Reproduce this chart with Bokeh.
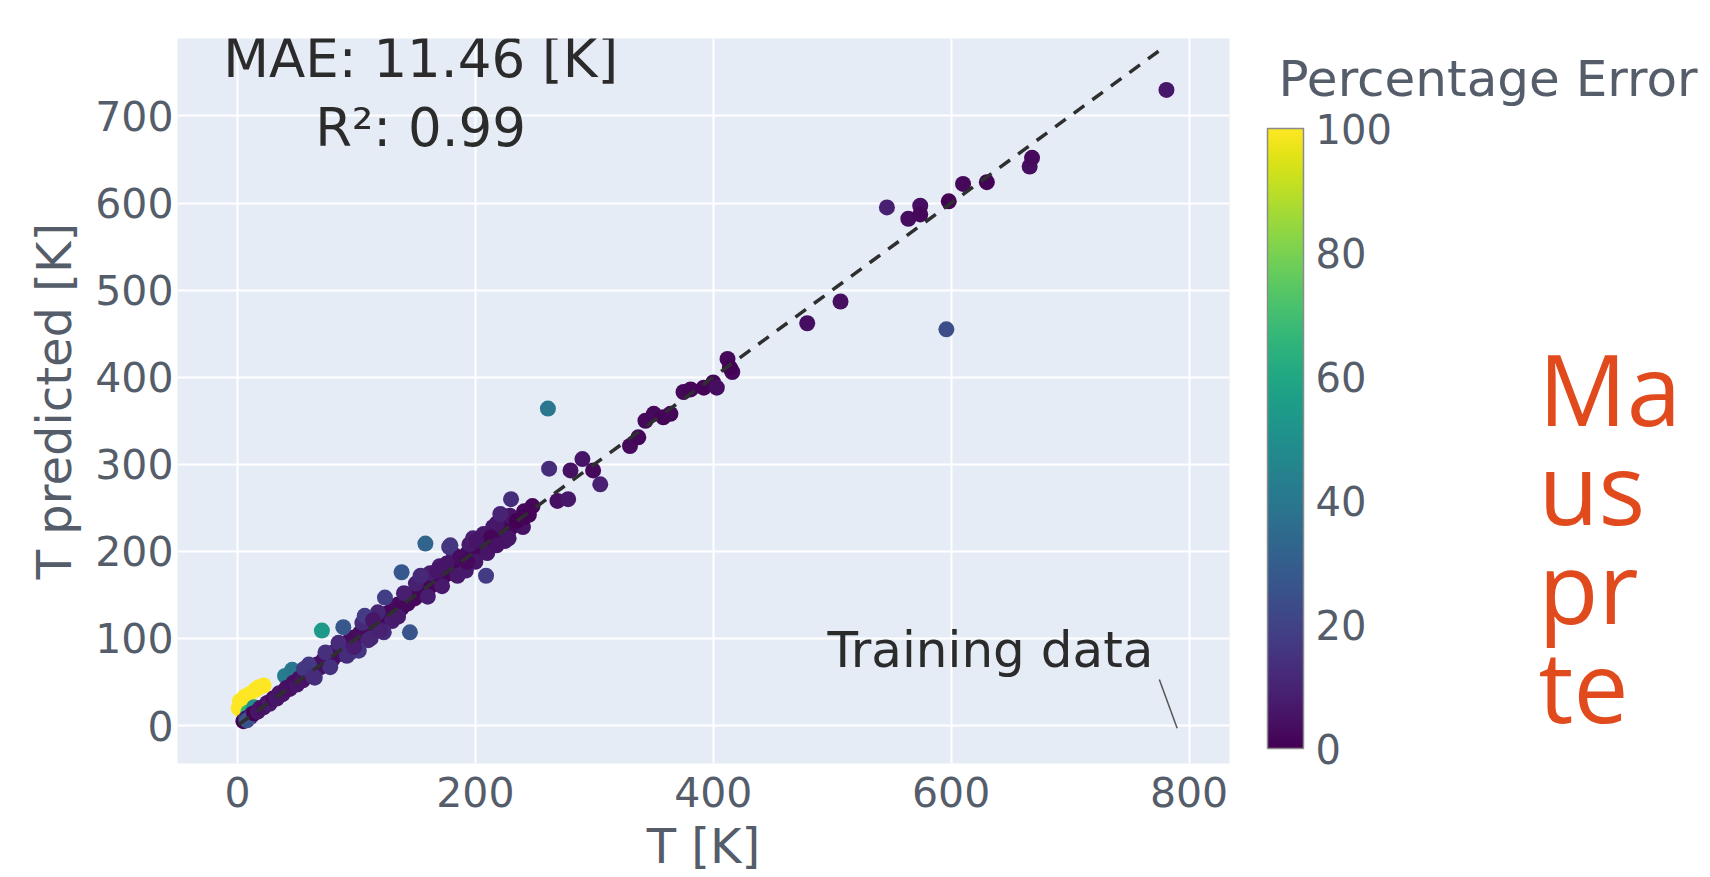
from bokeh.plotting import figure
from bokeh.layouts import row
from bokeh.models import (ColumnDataSource, ColorBar, LinearColorMapper, FixedTicker,
                          Label, Range1d)
from bokeh.palettes import Viridis256
from bokeh.embed import file_html
from bokeh.resources import INLINE

# ---------------- data ----------------
T_TRUE = [1, 2, 4, 6, 10, 15, 18, 22, 9, 14,
          5, 7, 9, 11, 12, 8, 14, 17, 19, 22, 25, 27, 30, 33, 35,
          40, 46,
          38, 41, 44, 47, 50, 52, 55, 58, 60, 62, 65, 67, 70, 72, 75, 78, 80, 82, 85, 88,
          90, 93, 95, 98, 100, 103, 105, 108, 111, 113, 116, 119, 121, 124, 127, 130,
          132, 135, 138, 141, 143, 146, 149, 152, 155, 158, 161, 164, 166, 169, 172,
          175, 178, 181, 184, 187, 190, 193, 196, 199, 202, 205, 208, 212, 215, 219,
          222, 226, 229, 233, 237, 241, 245,
          60, 65, 85, 95, 110, 118, 130, 150, 160, 170, 185, 195, 200, 215, 225, 240,
          105, 112, 135, 140, 162, 172, 182, 192, 198, 210, 218, 228, 56, 64, 74, 92,
          71, 89, 78, 102, 123, 145, 107, 114, 120, 98, 124, 138, 158, 178, 209, 230,
          229, 235, 241, 221, 207, 213, 218, 201, 179, 187, 193, 176, 168, 154,
          248, 262, 269, 278, 280, 290, 299, 305, 261,
          330, 337, 343, 350, 358, 364, 375, 381, 392, 400, 403, 412, 416, 414,
          479, 507, 546, 564, 574, 574, 596, 598, 610, 630, 666, 668, 781]
T_PRED = [20, 28, 16, 33, 36, 41, 44, 46, 15, 21,
          5, 8, 9, 10, 13, 6, 14, 16, 20, 21, 26, 25, 31, 31, 37,
          57, 64,
          36, 43, 42, 49, 47, 54, 52, 60, 57, 64, 62, 70, 67, 75, 72, 81, 76, 85, 82, 91,
          86, 96, 92, 101, 97, 106, 101, 111, 108, 117, 113, 122, 118, 128, 124, 133,
          129, 139, 135, 145, 140, 150, 146, 156, 152, 162, 158, 168, 163, 173, 169,
          179, 175, 185, 181, 191, 187, 197, 193, 203, 198, 209, 205, 216, 212, 223,
          219, 231, 226, 237, 234, 246, 242,
          70, 55, 95, 84, 98, 130, 120, 163, 148, 183, 172, 208, 188, 228, 212, 228,
          118, 100, 125, 152, 175, 160, 196, 178, 215, 198, 232, 215, 65, 56, 84, 80,
          109, 113, 67, 86, 107, 107, 126, 121, 109, 90, 147, 176, 209, 205, 172, 260,
          241, 235, 239, 243, 220, 216, 207, 212, 207, 193, 188, 186, 178, 172,
          252, 295, 258, 260, 293, 306, 293, 277, 364,
          321, 331, 350, 358, 354, 358, 383, 386, 388, 394, 388, 421, 406, 411,
          462, 487, 595, 582, 597, 587, 455, 602, 622, 624, 642, 652, 730]

X_TICKS = [0, 200, 400, 600, 800]
Y_TICKS = [0, 100, 200, 300, 400, 500, 600, 700]
CB_TICKS = [0, 20, 40, 60, 80, 100]

MAE_TEXT = "MAE: 11.46 [K]"
R2_TEXT = "R²: 0.99"
TRAINING_TEXT = "Training data"
TRAINING_TEXT_POS = (770, 87)
TRAINING_LINE_FROM = (775, 53)
TRAINING_LINE_TO = (790, -3)
METRIC_POS_X = 154
MAE_POS_Y = 766
R2_POS_Y = 687

# right-hand panel (page pixel coordinates, y downwards)
CB_TITLE = "Percentage Error"
CB_TITLE_POS = (1278, 78)
SIDE_LINES = ["Ma", "us", "pr", "te"]
SIDE_X = 1538
SIDE_Y = [387, 486, 585, 684]

TICK_COLOR = "#545d69"
FONT = "DejaVu Sans"

# page geometry
PAGE_W, PAGE_H = 1710, 877
MAIN_W = 1245
FRAME_LEFT, FRAME_RIGHT, FRAME_TOP, FRAME_BOTTOM = 177, 1229, 38, 763
CB_LEFT, CB_BOTTOM = 1267, 748

# percentage error used for colour
ERR = [abs(p - t) / t * 100 for t, p in zip(T_TRUE, T_PRED)]

mapper = LinearColorMapper(palette=Viridis256, low=0, high=100)
src = ColumnDataSource(dict(t=T_TRUE, p=T_PRED, err=ERR))

p = figure(width=MAIN_W, height=PAGE_H, output_backend="svg", toolbar_location=None,
           x_range=Range1d(-50.4, 834), y_range=Range1d(-43.6, 789),
           min_border_left=FRAME_LEFT, min_border_right=MAIN_W - FRAME_RIGHT,
           min_border_top=FRAME_TOP, min_border_bottom=PAGE_H - FRAME_BOTTOM,
           background_fill_color="#E5ECF6",
           border_fill_color="white", outline_line_color=None)

p.xaxis.ticker = FixedTicker(ticks=X_TICKS)
p.yaxis.ticker = FixedTicker(ticks=Y_TICKS)
for ax in (p.xaxis, p.yaxis):
    ax.axis_line_color = None
    ax.major_tick_line_color = None
    ax.minor_tick_line_color = None
    ax.major_tick_out = 0
    ax.major_tick_in = 0
    ax.minor_tick_out = 0
    ax.major_label_text_font = FONT
    ax.major_label_text_font_size = "41px"
    ax.major_label_text_color = TICK_COLOR
    ax.axis_label_text_font = FONT
    ax.axis_label_text_font_size = "48px"
    ax.axis_label_text_font_style = "normal"
    ax.axis_label_text_color = TICK_COLOR
p.xaxis.major_label_standoff = 13
p.yaxis.major_label_standoff = 4
p.yaxis.axis_label = "T predicted [K]"
p.yaxis.axis_label_standoff = 10
p.xaxis.axis_label = "T [K]"
p.xaxis.axis_label_standoff = 8

p.grid.grid_line_color = "white"
p.grid.grid_line_width = 2

p.scatter("t", "p", source=src, size=16,
          fill_color={"field": "err", "transform": mapper}, line_color=None)

lo, hi = min(T_TRUE), max(T_TRUE)
p.line([lo, hi], [lo, hi], line_color="#2f2f2f", line_width=3.5, line_dash="13 10")

p.segment(x0=[TRAINING_LINE_FROM[0]], y0=[TRAINING_LINE_FROM[1]],
          x1=[TRAINING_LINE_TO[0]], y1=[TRAINING_LINE_TO[1]],
          line_color="#555555", line_width=1.5)

p.add_layout(Label(x=METRIC_POS_X, y=MAE_POS_Y, text=MAE_TEXT, text_align="center",
                   text_baseline="middle", text_font=FONT, text_font_size="53px",
                   text_color="#2b2b2b"))
p.add_layout(Label(x=METRIC_POS_X, y=R2_POS_Y, text=R2_TEXT, text_align="center",
                   text_baseline="middle", text_font=FONT, text_font_size="53px",
                   text_color="#2b2b2b"))
p.add_layout(Label(x=TRAINING_TEXT_POS[0], y=TRAINING_TEXT_POS[1], text=TRAINING_TEXT,
                   text_align="right", text_baseline="middle", text_font=FONT,
                   text_font_size="50px", text_color="#2b2b2b"))

# ---------------- right-hand panel: colour bar and side text ----------------
# (its frame is aligned with the main frame vertically by the row layout)
side = figure(width=PAGE_W - MAIN_W, height=PAGE_H, output_backend="svg",
              toolbar_location=None,
              x_range=Range1d(MAIN_W, PAGE_W), y_range=Range1d(FRAME_BOTTOM, FRAME_TOP),
              x_axis_type=None, y_axis_type=None, min_border=0,
              min_border_left=0, min_border_right=0, min_border_top=FRAME_TOP,
              min_border_bottom=PAGE_H - FRAME_BOTTOM, outline_line_color=None,
              background_fill_color="white", border_fill_color="white")
side.grid.visible = False

cb = ColorBar(color_mapper=mapper, ticker=FixedTicker(ticks=CB_TICKS),
              width=36, height=620, location=(CB_LEFT - MAIN_W, FRAME_BOTTOM - CB_BOTTOM),
              padding=0, margin=0,
              major_label_text_font=FONT, major_label_text_font_size="40px",
              major_label_text_color=TICK_COLOR, label_standoff=12,
              major_tick_line_color=None, bar_line_color="#8a8a8a",
              bar_line_width=1.5, background_fill_alpha=0, border_line_color=None)
side.add_layout(cb)

side.add_layout(Label(x=CB_TITLE_POS[0], y=CB_TITLE_POS[1], text=CB_TITLE,
                      text_align="left", text_baseline="middle", text_font=FONT,
                      text_font_size="50px", text_color=TICK_COLOR))

for line, yy in zip(SIDE_LINES, SIDE_Y):
    side.add_layout(Label(x=SIDE_X, y=yy, text=line, text_align="left",
                          text_baseline="middle", text_font="Open Sans",
                          text_font_size="98px", text_color="#E04A1C"))

layout = row(p, side, spacing=0)
open("out.html", "w").write(file_html(layout, INLINE))
